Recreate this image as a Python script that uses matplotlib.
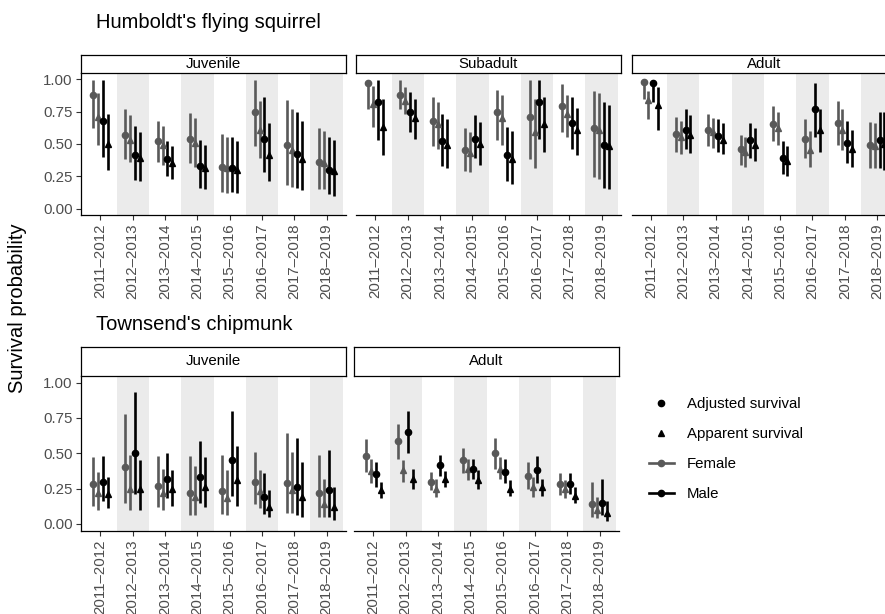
import matplotlib
matplotlib.use('Agg')
import matplotlib.pyplot as plt
from matplotlib.lines import Line2D

plt.rcParams['font.family'] = ['Liberation Sans', 'DejaVu Sans']

years = ['2011–2012', '2012–2013', '2013–2014', '2014–2015',
         '2015–2016', '2016–2017', '2017–2018', '2018–2019']

# Humboldt's flying squirrel - Juvenile
hfs_juv_f_adj = [0.88, 0.57, 0.52, 0.54, 0.32, 0.75, 0.49, 0.36]
hfs_juv_f_adj_lo = [0.62, 0.38, 0.36, 0.35, 0.13, 0.48, 0.18, 0.15]
hfs_juv_f_adj_hi = [0.99, 0.77, 0.68, 0.74, 0.58, 0.99, 0.84, 0.62]
hfs_juv_f_app = [0.71, 0.53, 0.49, 0.51, 0.31, 0.61, 0.45, 0.35]
hfs_juv_f_app_lo = [0.49, 0.36, 0.34, 0.32, 0.12, 0.39, 0.17, 0.15]
hfs_juv_f_app_hi = [0.89, 0.72, 0.64, 0.70, 0.55, 0.83, 0.77, 0.60]
hfs_juv_m_adj = [0.68, 0.41, 0.38, 0.33, 0.31, 0.54, 0.42, 0.30]
hfs_juv_m_adj_lo = [0.40, 0.22, 0.25, 0.16, 0.13, 0.28, 0.16, 0.11]
hfs_juv_m_adj_hi = [0.99, 0.64, 0.52, 0.53, 0.55, 0.86, 0.75, 0.55]
hfs_juv_m_app = [0.50, 0.39, 0.35, 0.31, 0.30, 0.41, 0.38, 0.29]
hfs_juv_m_app_lo = [0.30, 0.21, 0.23, 0.15, 0.12, 0.21, 0.14, 0.10]
hfs_juv_m_app_hi = [0.73, 0.59, 0.48, 0.49, 0.52, 0.66, 0.68, 0.53]

# Humboldt's flying squirrel - Subadult
hfs_sub_f_adj = [0.97, 0.88, 0.68, 0.45, 0.75, 0.71, 0.79, 0.62]
hfs_sub_f_adj_lo = [0.77, 0.77, 0.48, 0.29, 0.53, 0.38, 0.59, 0.24]
hfs_sub_f_adj_hi = [0.99, 0.99, 0.86, 0.62, 0.92, 0.99, 0.96, 0.91]
hfs_sub_f_app = [0.81, 0.83, 0.65, 0.43, 0.70, 0.59, 0.73, 0.61]
hfs_sub_f_app_lo = [0.63, 0.73, 0.46, 0.28, 0.49, 0.31, 0.55, 0.23]
hfs_sub_f_app_hi = [0.95, 0.94, 0.82, 0.59, 0.88, 0.85, 0.88, 0.89]
hfs_sub_m_adj = [0.82, 0.75, 0.52, 0.54, 0.41, 0.82, 0.66, 0.49]
hfs_sub_m_adj_lo = [0.53, 0.59, 0.33, 0.39, 0.21, 0.54, 0.46, 0.16]
hfs_sub_m_adj_hi = [0.99, 0.90, 0.73, 0.72, 0.63, 0.99, 0.86, 0.82]
hfs_sub_m_app = [0.63, 0.70, 0.49, 0.50, 0.38, 0.65, 0.61, 0.48]
hfs_sub_m_app_lo = [0.41, 0.54, 0.31, 0.34, 0.19, 0.44, 0.41, 0.15]
hfs_sub_m_app_hi = [0.85, 0.85, 0.69, 0.67, 0.60, 0.86, 0.78, 0.80]

# Humboldt's flying squirrel - Adult
hfs_adu_f_adj = [0.98, 0.58, 0.61, 0.46, 0.65, 0.54, 0.66, 0.49]
hfs_adu_f_adj_lo = [0.85, 0.44, 0.48, 0.34, 0.52, 0.39, 0.49, 0.31]
hfs_adu_f_adj_hi = [0.99, 0.71, 0.73, 0.57, 0.79, 0.69, 0.83, 0.67]
hfs_adu_f_app = [0.84, 0.55, 0.59, 0.44, 0.62, 0.45, 0.61, 0.48]
hfs_adu_f_app_lo = [0.69, 0.42, 0.47, 0.32, 0.49, 0.32, 0.45, 0.31]
hfs_adu_f_app_hi = [0.91, 0.68, 0.70, 0.55, 0.75, 0.60, 0.77, 0.66]
hfs_adu_m_adj = [0.97, 0.61, 0.56, 0.53, 0.39, 0.77, 0.51, 0.53]
hfs_adu_m_adj_lo = [0.82, 0.46, 0.44, 0.39, 0.27, 0.55, 0.35, 0.31]
hfs_adu_m_adj_hi = [0.99, 0.77, 0.69, 0.66, 0.52, 0.97, 0.68, 0.75]
hfs_adu_m_app = [0.80, 0.57, 0.53, 0.49, 0.37, 0.61, 0.46, 0.50]
hfs_adu_m_app_lo = [0.61, 0.43, 0.42, 0.37, 0.25, 0.44, 0.32, 0.30]
hfs_adu_m_app_hi = [0.94, 0.72, 0.66, 0.62, 0.48, 0.77, 0.61, 0.75]

# Townsend's chipmunk - Juvenile
tc_juv_f_adj = [0.28, 0.40, 0.27, 0.22, 0.23, 0.30, 0.29, 0.22]
tc_juv_f_adj_lo = [0.13, 0.15, 0.12, 0.06, 0.07, 0.14, 0.08, 0.05]
tc_juv_f_adj_hi = [0.47, 0.78, 0.48, 0.48, 0.49, 0.51, 0.64, 0.49]
tc_juv_f_app = [0.22, 0.25, 0.22, 0.19, 0.18, 0.23, 0.24, 0.14]
tc_juv_f_app_lo = [0.10, 0.10, 0.10, 0.06, 0.06, 0.11, 0.08, 0.05]
tc_juv_f_app_hi = [0.37, 0.49, 0.39, 0.41, 0.38, 0.38, 0.51, 0.32]
tc_juv_m_adj = [0.30, 0.50, 0.32, 0.33, 0.45, 0.19, 0.26, 0.24]
tc_juv_m_adj_lo = [0.16, 0.21, 0.18, 0.15, 0.20, 0.07, 0.06, 0.05]
tc_juv_m_adj_hi = [0.48, 0.93, 0.50, 0.59, 0.80, 0.36, 0.61, 0.52]
tc_juv_m_app = [0.21, 0.25, 0.25, 0.26, 0.31, 0.12, 0.19, 0.12]
tc_juv_m_app_lo = [0.11, 0.10, 0.13, 0.12, 0.13, 0.05, 0.05, 0.03]
tc_juv_m_app_hi = [0.33, 0.45, 0.38, 0.47, 0.55, 0.24, 0.44, 0.26]

# Townsend's chipmunk - Adult
tc_adu_f_adj = [0.48, 0.59, 0.30, 0.45, 0.50, 0.34, 0.28, 0.14]
tc_adu_f_adj_lo = [0.37, 0.46, 0.24, 0.36, 0.39, 0.25, 0.205, 0.05]
tc_adu_f_adj_hi = [0.60, 0.71, 0.37, 0.54, 0.61, 0.44, 0.36, 0.30]
tc_adu_f_app = [0.375, 0.38, 0.25, 0.39, 0.39, 0.26, 0.245, 0.10]
tc_adu_f_app_lo = [0.29, 0.30, 0.19, 0.31, 0.32, 0.19, 0.18, 0.04]
tc_adu_f_app_hi = [0.46, 0.45, 0.32, 0.46, 0.47, 0.33, 0.31, 0.19]
tc_adu_m_adj = [0.35, 0.65, 0.42, 0.39, 0.37, 0.38, 0.28, 0.15]
tc_adu_m_adj_lo = [0.26, 0.50, 0.34, 0.32, 0.29, 0.29, 0.21, 0.06]
tc_adu_m_adj_hi = [0.44, 0.80, 0.49, 0.46, 0.46, 0.48, 0.36, 0.32]
tc_adu_m_app = [0.24, 0.32, 0.32, 0.31, 0.25, 0.26, 0.20, 0.075]
tc_adu_m_app_lo = [0.18, 0.25, 0.26, 0.25, 0.20, 0.20, 0.15, 0.02]
tc_adu_m_app_hi = [0.30, 0.39, 0.375, 0.38, 0.31, 0.32, 0.26, 0.16]

FEMALE = '#595959'
MALE = '#000000'
SHADE = '#EBEBEB'
TXT = '#4D4D4D'
TICK = '#333333'

W, H = 885, 614
fig = plt.figure(figsize=(W / 100, H / 100), dpi=100)


def px_axes(x0, y0, x1, y1):
    return fig.add_axes([x0 / W, 1 - y1 / H, (x1 - x0) / W, (y1 - y0) / H])


def panel(x0, x1, top, bottom, strip_top, label, series, left_axis):
    ax = px_axes(x0, top, x1, bottom)
    xs = list(range(1, len(years) + 1))
    for i in xs:
        if i % 2 == 0:
            ax.axvspan(i - 0.5, i + 0.5, color=SHADE, lw=0, zorder=0)
    offsets = [-0.225, -0.075, 0.075, 0.225]
    styles = [(FEMALE, 'o'), (FEMALE, '^'), (MALE, 'o'), (MALE, '^')]
    for (est, lo, hi), off, (col, mk) in zip(series, offsets, styles):
        px = [x + off for x in xs]
        ax.vlines(px, lo, hi, colors=col, lw=1.9, zorder=2)
        ax.plot(px, est, linestyle='None', marker=mk, color=col,
                markersize=4.5 if mk == 'o' else 4.8, zorder=3)
    ax.set_xlim(0.4, len(years) + 0.6)
    ax.set_ylim(-0.05, 1.05)
    ax.set_xticks(xs)
    ax.set_xticklabels(years, rotation=90, fontsize=10.8, color=TXT)
    ax.set_yticks([0, 0.25, 0.5, 0.75, 1.0])
    ax.set_yticklabels(['0.00', '0.25', '0.50', '0.75', '1.00'],
                       fontsize=10.8, color=TXT)
    ax.tick_params(axis='both', length=3.5, width=0.8, color=TICK, pad=2.5)
    ax.spines['top'].set_visible(False)
    ax.spines['right'].set_visible(False)
    ax.spines['bottom'].set_linewidth(0.9)
    if left_axis:
        ax.spines['left'].set_linewidth(0.9)
    else:
        ax.spines['left'].set_visible(False)
        ax.tick_params(axis='y', left=False, labelleft=False)

    st = px_axes(x0, strip_top, x1, top)
    st.set_xticks([])
    st.set_yticks([])
    for s in st.spines.values():
        s.set_linewidth(0.9)
    st.text(0.5, 0.5, label, ha='center', va='center', fontsize=10.8,
            transform=st.transAxes)
    return ax


def trio(a, lo, hi):
    return (a, lo, hi)


hfs_juv = [trio(hfs_juv_f_adj, hfs_juv_f_adj_lo, hfs_juv_f_adj_hi),
           trio(hfs_juv_f_app, hfs_juv_f_app_lo, hfs_juv_f_app_hi),
           trio(hfs_juv_m_adj, hfs_juv_m_adj_lo, hfs_juv_m_adj_hi),
           trio(hfs_juv_m_app, hfs_juv_m_app_lo, hfs_juv_m_app_hi)]
hfs_sub = [trio(hfs_sub_f_adj, hfs_sub_f_adj_lo, hfs_sub_f_adj_hi),
           trio(hfs_sub_f_app, hfs_sub_f_app_lo, hfs_sub_f_app_hi),
           trio(hfs_sub_m_adj, hfs_sub_m_adj_lo, hfs_sub_m_adj_hi),
           trio(hfs_sub_m_app, hfs_sub_m_app_lo, hfs_sub_m_app_hi)]
hfs_adu = [trio(hfs_adu_f_adj, hfs_adu_f_adj_lo, hfs_adu_f_adj_hi),
           trio(hfs_adu_f_app, hfs_adu_f_app_lo, hfs_adu_f_app_hi),
           trio(hfs_adu_m_adj, hfs_adu_m_adj_lo, hfs_adu_m_adj_hi),
           trio(hfs_adu_m_app, hfs_adu_m_app_lo, hfs_adu_m_app_hi)]
tc_juv = [trio(tc_juv_f_adj, tc_juv_f_adj_lo, tc_juv_f_adj_hi),
          trio(tc_juv_f_app, tc_juv_f_app_lo, tc_juv_f_app_hi),
          trio(tc_juv_m_adj, tc_juv_m_adj_lo, tc_juv_m_adj_hi),
          trio(tc_juv_m_app, tc_juv_m_app_lo, tc_juv_m_app_hi)]
tc_adu = [trio(tc_adu_f_adj, tc_adu_f_adj_lo, tc_adu_f_adj_hi),
          trio(tc_adu_f_app, tc_adu_f_app_lo, tc_adu_f_app_hi),
          trio(tc_adu_m_adj, tc_adu_m_adj_lo, tc_adu_m_adj_hi),
          trio(tc_adu_m_app, tc_adu_m_app_lo, tc_adu_m_app_hi)]

# top row
panel(81, 346, 72.7, 215, 55, 'Juvenile', hfs_juv, True)
panel(356, 621, 72.7, 215, 55, 'Subadult', hfs_sub, False)
panel(631.5, 896.5, 72.7, 215, 55, 'Adult', hfs_adu, False)
# bottom row
panel(81, 346, 375.5, 531, 347, 'Juvenile', tc_juv, True)
panel(354, 619, 375.5, 531, 347, 'Adult', tc_adu, False)

fig.text(96 / W, 1 - 22 / H, "Humboldt's flying squirrel", fontsize=14.5,
         va='center', ha='left')
fig.text(96 / W, 1 - 324 / H, "Townsend's chipmunk", fontsize=14.5,
         va='center', ha='left')
fig.text(18 / W, 1 - 308 / H, 'Survival probability', fontsize=14.5,
         rotation=90, va='center', ha='center')

handles = [Line2D([], [], linestyle='None', marker='o', color='black', markersize=4.5),
           Line2D([], [], linestyle='None', marker='^', color='black', markersize=4.8),
           Line2D([], [], color=FEMALE, lw=1.9, marker='o', markersize=4.5),
           Line2D([], [], color=MALE, lw=1.9, marker='o', markersize=4.5)]
labels = ['Adjusted survival', 'Apparent survival', 'Female', 'Male']
fig.legend(handles, labels, loc='upper left', bbox_to_anchor=(649 / W, 1 - 397 / H),
           frameon=False, fontsize=10.8, handlelength=1.65, handletextpad=0.9,
           labelspacing=1.07, borderpad=0, borderaxespad=0)

fig.savefig('out.png', dpi=100)
